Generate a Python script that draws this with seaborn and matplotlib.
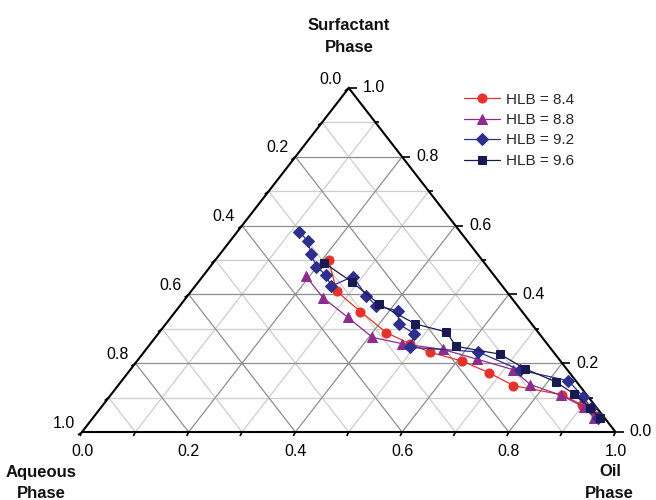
import numpy as np
import pandas as pd
import matplotlib
matplotlib.use("Agg")
import matplotlib.pyplot as plt
from matplotlib.collections import LineCollection
import seaborn as sns

sns.set_theme(style="white")
plt.rcParams["font.family"] = ["Liberation Sans", "DejaVu Sans"]

# Phase compositions (mass fractions) along each boundary curve
series_names = ["HLB = 8.4", "HLB = 8.8", "HLB = 9.2", "HLB = 9.6"]

oil_84 = [0.213, 0.273, 0.347, 0.426, 0.487, 0.536, 0.610, 0.677, 0.741, 0.846, 0.898, 0.940]
surf_84 = [0.499, 0.409, 0.350, 0.289, 0.256, 0.232, 0.206, 0.172, 0.135, 0.108, 0.079, 0.047]

oil_88 = [0.192, 0.257, 0.332, 0.407, 0.471, 0.556, 0.634, 0.718, 0.771, 0.844, 0.904, 0.939]
surf_88 = [0.454, 0.390, 0.333, 0.275, 0.257, 0.240, 0.212, 0.181, 0.138, 0.107, 0.073, 0.042]

oil_92 = [0.117, 0.146, 0.171, 0.199, 0.228, 0.255, 0.282, 0.335, 0.369, 0.415, 0.438,
          0.480, 0.492, 0.626, 0.731, 0.837, 0.889, 0.919, 0.947]
surf_92 = [0.581, 0.555, 0.517, 0.481, 0.457, 0.424, 0.452, 0.396, 0.366, 0.353, 0.313,
           0.286, 0.246, 0.233, 0.180, 0.149, 0.102, 0.070, 0.041]

oil_96 = [0.209, 0.288, 0.372, 0.468, 0.537, 0.577, 0.671, 0.738, 0.815, 0.868, 0.917, 0.951]
surf_96 = [0.491, 0.436, 0.371, 0.314, 0.291, 0.249, 0.226, 0.184, 0.146, 0.110, 0.071, 0.041]

tick_values = [0.0, 0.2, 0.4, 0.6, 0.8, 1.0]
tick_labels = ["0.0", "0.2", "0.4", "0.6", "0.8", "1.0"]

colors = ["#e5322b", "#8c2d8e", "#2e2f8c", "#191a52"]
markers = ["o", "^", "D", "s"]
marker_sizes = [6.5, 7.5, 6.5, 6]


def to_xy(oil, surf):
    """Ternary (oil, surfactant) -> Cartesian, base along x, apex at top."""
    oil = np.asarray(oil, dtype=float)
    surf = np.asarray(surf, dtype=float)
    return oil + 0.5 * surf, surf


frames = []
for name, o, s in zip(series_names, [oil_84, oil_88, oil_92, oil_96],
                      [surf_84, surf_88, surf_92, surf_96]):
    x, y = to_xy(o, s)
    frames.append(pd.DataFrame({"series": name, "oil": o, "surfactant": s,
                                "aqueous": 1 - np.asarray(o) - np.asarray(s),
                                "x": x, "y": y, "order": range(len(o))}))
df = pd.concat(frames, ignore_index=True)

W, H = 656, 500
fig = plt.figure(figsize=(W / 100, H / 100), dpi=100)
# triangle: base from x=82 to 615.5 px at y=432 px, apex at y=88 px
ax = fig.add_axes([82 / W, (H - 432) / H, 533.5 / W, 344 / H])
ax.set_xlim(0, 1)
ax.set_ylim(0, 1)
ax.set_axis_off()

PX = 1 / 533.5  # one pixel in x data units
PY = 1 / 344    # one pixel in y data units

# grid lines every 0.1, darker every 0.2
major_segs, minor_segs = [], []
for k in range(1, 10):
    v = k / 10
    segs = [
        [(0.5 * v, v), (1 - 0.5 * v, v)],               # constant surfactant
        [(v, 0), (v + 0.5 * (1 - v), 1 - v)],           # constant oil
        [(1 - v, 0), (0.5 * (1 - v), 1 - v)],           # constant aqueous
    ]
    (major_segs if k % 2 == 0 else minor_segs).extend(segs)
ax.add_collection(LineCollection(minor_segs, colors="#cdcdcd", linewidths=0.9, zorder=1))
ax.add_collection(LineCollection(major_segs, colors="#8e8e8e", linewidths=0.9, zorder=1))

# triangle outline
ax.plot([0, 1, 0.5, 0], [0, 0, 1, 0], color="black", lw=1.5, zorder=3,
        solid_joinstyle="miter", clip_on=False)

# tick marks
tick_segs = []
for k in range(11):
    v = k / 10
    # bottom axis (oil)
    tick_segs.append([(v, 0), (v - 2 * PX, -4 * PY)])
    # left axis (aqueous)
    lx, ly = 0.5 * (1 - v), 1 - v
    tick_segs.append([(lx, ly), (lx - 4 * PX, ly - 3 * PY)])
    # right axis (surfactant)
    rx, ry = 1 - 0.5 * v, v
    length = 8 if k % 2 == 0 else 4
    tick_segs.append([(rx, ry), (rx + length * PX, ry)])
ax.add_collection(LineCollection(tick_segs, colors="black", linewidths=1.2,
                                 zorder=3, clip_on=False))

# tick labels
pt = 0.72
for v, lab in zip(tick_values, tick_labels):
    ax.annotate(lab, xy=(v, 0), xytext=(0, -19 * pt), textcoords="offset points",
                ha="center", va="center", fontsize=11.5, color="black")
    ax.annotate(lab, xy=(0.5 * (1 - v), 1 - v), xytext=(-7 * pt, 9 * pt),
                textcoords="offset points", ha="right", va="center",
                fontsize=11.5, color="black")
    ax.annotate(lab, xy=(1 - 0.5 * v, v), xytext=(14 * pt, 0),
                textcoords="offset points", ha="left", va="center",
                fontsize=11.5, color="black")

# corner titles
title_kw = dict(fontsize=12, fontweight="bold", color="#111111", ha="center", va="baseline")
fig.text(349 / W, 1 - 30 / H, "Surfactant", **title_kw)
fig.text(349 / W, 1 - 52 / H, "Phase", **title_kw)
fig.text(41 / W, 1 - 477 / H, "Aqueous", **title_kw)
fig.text(41 / W, 1 - 498 / H, "Phase", **title_kw)
fig.text(610 / W, 1 - 476 / H, "Oil", **title_kw)
fig.text(609 / W, 1 - 498 / H, "Phase", **title_kw)

# boundary curves
palette = dict(zip(series_names, colors))
marker_map = dict(zip(series_names, markers))
sns.lineplot(data=df, x="x", y="y", hue="series", style="series",
             hue_order=series_names, style_order=series_names,
             palette=palette, markers=marker_map, dashes=False,
             sort=False, estimator=None, units="series",
             linewidth=0.9, ax=ax, legend=False, zorder=4)

data_lines = ax.get_lines()[-4:]
for line, ms in zip(data_lines, marker_sizes):
    line.set_markeredgecolor(line.get_color())
    line.set_markerfacecolor(line.get_color())
    line.set_markersize(ms)
    line.set_clip_on(False)

ax.legend(data_lines, series_names, loc="upper left",
          bbox_to_anchor=(456 / W, 1 - 85 / H), bbox_transform=fig.transFigure,
          frameon=False, borderpad=0, handlelength=2.35, handletextpad=0.45,
          labelspacing=0.42, fontsize=11)

ax.set_xlabel("")
ax.set_ylabel("")
fig.savefig("out.png", dpi=100, facecolor="white")
